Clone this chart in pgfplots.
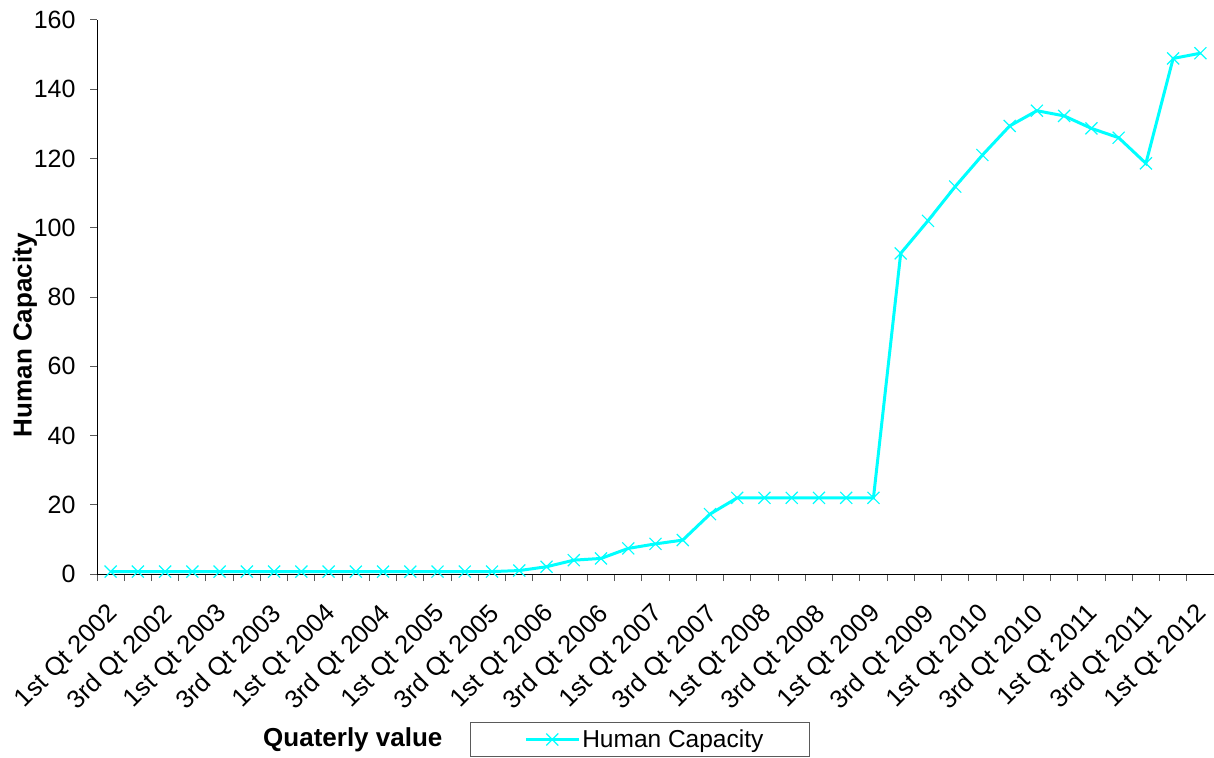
\documentclass[border=0pt]{standalone}
\usepackage{fontspec}
\setmainfont{Liberation Sans}
\usepackage{pgfplots}
\pgfplotsset{compat=1.18}
\definecolor{aqua}{RGB}{0,255,255}
\definecolor{axgray}{RGB}{90,90,90}

\pgfplotstableread{
x y
1 0.7
2 0.7
3 0.7
4 0.7
5 0.7
6 0.7
7 0.7
8 0.7
9 0.7
10 0.7
11 0.7
12 0.7
13 0.7
14 0.7
15 0.7
16 1.0
17 2.1
18 4.0
19 4.5
20 7.4
21 8.7
22 9.8
23 17.3
24 22.0
25 22.0
26 22.0
27 22.0
28 22.0
29 22.0
30 92.6
31 102.0
32 111.9
33 121.0
34 129.4
35 133.8
36 132.3
37 128.7
38 126.0
39 118.6
40 148.9
41 150.4
}\datatable

\begin{document}
\begin{tikzpicture}
\begin{axis}[
  scale only axis, width=1117pt, height=554pt,
  xmin=0.5, xmax=41.5, ymin=0, ymax=160,
  clip=false,
  axis x line*=bottom, axis y line*=left,
  axis line style={line width=1pt, black},
  tick align=outside,
  tick style={line width=1pt, axgray},
  major tick length=7pt,
  ytick={0,20,...,160},
  xtick={0.5,1.5,...,41.5},
  xticklabels={},
  extra x ticks={1,3,...,41},
  extra x tick labels={1st Qt 2002,3rd Qt 2002,1st Qt 2003,3rd Qt 2003,1st Qt 2004,3rd Qt 2004,1st Qt 2005,3rd Qt 2005,1st Qt 2006,3rd Qt 2006,1st Qt 2007,3rd Qt 2007,1st Qt 2008,3rd Qt 2008,1st Qt 2009,3rd Qt 2009,1st Qt 2010,3rd Qt 2010,1st Qt 2011,3rd Qt 2011,1st Qt 2012},
  extra x tick style={major tick length=0pt, grid=none,
     xticklabel style={xshift=-5pt, yshift=-28pt, rotate=45, anchor=north east, inner sep=0pt, font=\fontsize{25.5}{30}\selectfont}},
  /pgf/number format/assume math mode=true,
  ticklabel style={font=\fontsize{25}{30}\selectfont},
  yticklabel style={xshift=-11pt},
  xlabel={Quaterly value},
  xlabel style={font=\bfseries\fontsize{26}{31}\selectfont, at={(axis description cs:0.229,-0.2996)}, anchor=center},
  ylabel={Human Capacity},
  ylabel style={font=\bfseries\fontsize{26}{31}\selectfont, at={(axis description cs:-0.0645,0.431)}, anchor=center},
  legend style={at={(axis description cs:0.486,-0.2987)}, anchor=center,
     draw=axgray, line width=1pt, inner xsep=0pt, inner ysep=5pt,
     font=\fontsize{24.5}{29}\selectfont},
  legend image code/.code={
     \path (-54pt,0pt);
     \draw[mark repeat=2,mark phase=2,#1] plot coordinates {(0pt,0pt) (26.5pt,0pt) (53pt,0pt)};
  },
]
\addplot[color=aqua, line width=3pt, mark=x, mark size=8.5pt, mark options={line width=1.2pt}] table[x=x,y=y] {\datatable};
\addlegendentry{Human Capacity\kern44pt}
\coordinate (bl) at (rel axis cs:0,0);
\coordinate (tr) at (rel axis cs:1,1);
\end{axis}
\pgfresetboundingbox
\path[use as bounding box] ([shift={(-97pt,-183pt)}]bl) rectangle ([shift={(0pt,20pt)}]tr);
\end{tikzpicture}
\end{document}
